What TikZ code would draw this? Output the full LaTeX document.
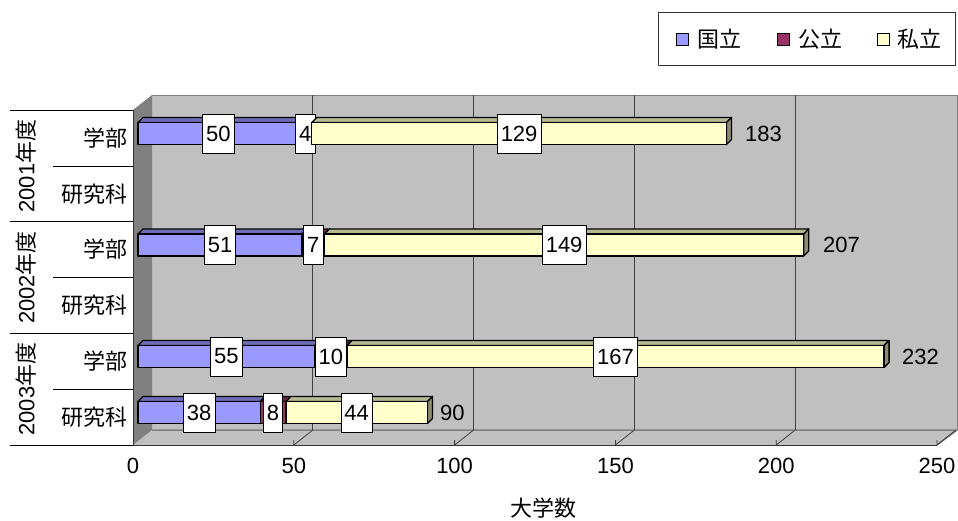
\documentclass[tikz,border=0pt]{standalone}
\usepackage{fontspec}
\setmainfont{Liberation Sans}
\newfontfamily\jpfont{Noto Sans CJK JP}
\definecolor{natl}{HTML}{9999FF}
\definecolor{publ}{HTML}{993366}
\definecolor{priv}{HTML}{FFFFCC}
\definecolor{wallgray}{HTML}{C0C0C0}
\definecolor{sidegray}{HTML}{808080}
\tikzset{
    chartfont/.style={font=\fontsize{22}{24}\selectfont},
    vallabel/.style={chartfont, draw=black, fill=white, line width=0.6pt, inner xsep=3.5pt, inner ysep=0pt, minimum height=39pt},
    sumlabel/.style={chartfont, anchor=west, inner sep=0pt},
    catlabel/.style={chartfont, anchor=east, inner sep=0pt},
    yearlabel/.style={chartfont, rotate=90, inner sep=0pt},
    legsquare/.style={draw=black, line width=0.8pt, minimum size=12pt, inner sep=0pt},
    barline/.style={draw=black, line width=1.3pt, line join=round},
    tablerule/.style={draw=black, line width=1pt},
}
\newcommand{\barpart}[6]{%
    \pgfmathsetmacro{\segL}{138+3.216*#3}%
    \pgfmathsetmacro{\segR}{138+3.216*#4}%
    \pgfmathsetmacro{\segT}{#2-15.5}%
    \pgfmathsetmacro{\segB}{#2+6.5}%
    \filldraw[barline, fill=#5!72!black] (\segL,\segT) -- ++(5,-5) -- (\segR+5,\segT-5) -- (\segR,\segT) -- cycle;
    \filldraw[barline, fill=#5!55!black] (\segR,\segT) -- ++(5,-5) -- (\segR+5,\segB-5) -- (\segR,\segB) -- cycle;
    \filldraw[barline, fill=#5] (\segL,\segT) rectangle (\segR,\segB);
    \node[vallabel] (#1) at ({(\segL+\segR)/2},#2-4.5) {#6};
}

\begin{document}
\begin{tikzpicture}[x=1pt, y=-1pt]
\useasboundingbox[fill=white] (0,0) rectangle (958,520);
\fill[wallgray] (152,95) rectangle (957,430);
\draw[sidegray, line width=1pt] (152,95) -- (957,95) -- (957,430);
\fill[wallgray] (133,445) -- (937,445) -- (957,430) -- (152,430) -- cycle;
\draw[sidegray, line width=1.5pt] (152,430) -- (957,430) -- (937,445);
\fill[sidegray] (133,110) -- (152,95) -- (152,430) -- (133,445) -- cycle;
\foreach \v in {50,100,150,200}
    \draw[black!75, line width=0.8pt] (152+3.216*\v,95) -- (152+3.216*\v,430);
\foreach \v in {50,100,150,200,250}
    \draw[black!75, line width=0.8pt] (133+3.216*\v,445) -- ++(19,-15) (133+3.216*\v,445) -- ++(0,-5);
\draw[black!80, line width=1pt] (133,110) -- (133,445) -- (937,445);

\barpart{v1a}{138}{0}{50}{natl}{50}
\barpart{v1b}{138}{50}{54}{publ}{4}
\barpart{v1c}{138}{54}{183}{priv}{129}
\barpart{v3a}{249.5}{0}{51}{natl}{51}
\barpart{v3b}{249.5}{51}{58}{publ}{7}
\barpart{v3c}{249.5}{58}{207}{priv}{149}
\barpart{v5a}{361}{0}{55}{natl}{55}
\barpart{v5b}{361}{55}{65}{publ}{10}
\barpart{v5c}{361}{65}{232}{priv}{167}
\barpart{v6a}{417}{0}{38}{natl}{38}
\barpart{v6b}{417}{38}{46}{publ}{8}
\barpart{v6c}{417}{46}{90}{priv}{44}
\node[sumlabel] (s1) at (745,133.5) {183};
\node[sumlabel] (s3) at (823,245) {207};
\node[sumlabel] (s5) at (902,356.5) {232};
\node[sumlabel] (s6) at (440,412.5) {90};

\draw[tablerule] (10,110) -- (133,110) (10,221.7) -- (133,221.7) (10,333.3) -- (133,333.3) (10,445) -- (133,445);
\draw[tablerule] (53,166) -- (133,166) (53,277.5) -- (133,277.5) (53,389) -- (133,389);
\node[catlabel] (c1) at (128,138) {\jpfont 学部};
\node[catlabel] (c2) at (128,193.8) {\jpfont 研究科};
\node[catlabel] (c3) at (128,249.5) {\jpfont 学部};
\node[catlabel] (c4) at (128,305.3) {\jpfont 研究科};
\node[catlabel] (c5) at (128,361.2) {\jpfont 学部};
\node[catlabel] (c6) at (128,417) {\jpfont 研究科};
\node[yearlabel] (y1) at (26,166) {2001{\jpfont 年度}};
\node[yearlabel] (y2) at (26,277.5) {2002{\jpfont 年度}};
\node[yearlabel] (y3) at (26,389) {2003{\jpfont 年度}};

\foreach \v in {0,50,100,150,200,250}
    \node[chartfont, inner sep=0pt] (t\v) at (133+3.216*\v,466) {\v};
\node[chartfont, inner sep=0pt] (axtitle) at (543,508) {\jpfont 大学数};

\draw[black!80, line width=1pt] (658,12) rectangle (955,65);
\node[legsquare, fill=natl] (k1) at (682.5,39) {};
\node[legsquare, fill=publ] (k2) at (783.5,39) {};
\node[legsquare, fill=priv] (k3) at (883.5,39) {};
\node[catlabel, anchor=west] (n1) at (697,39) {\jpfont 国立};
\node[catlabel, anchor=west] (n2) at (798,39) {\jpfont 公立};
\node[catlabel, anchor=west] (n3) at (897,39) {\jpfont 私立};
\end{tikzpicture}
\end{document}
